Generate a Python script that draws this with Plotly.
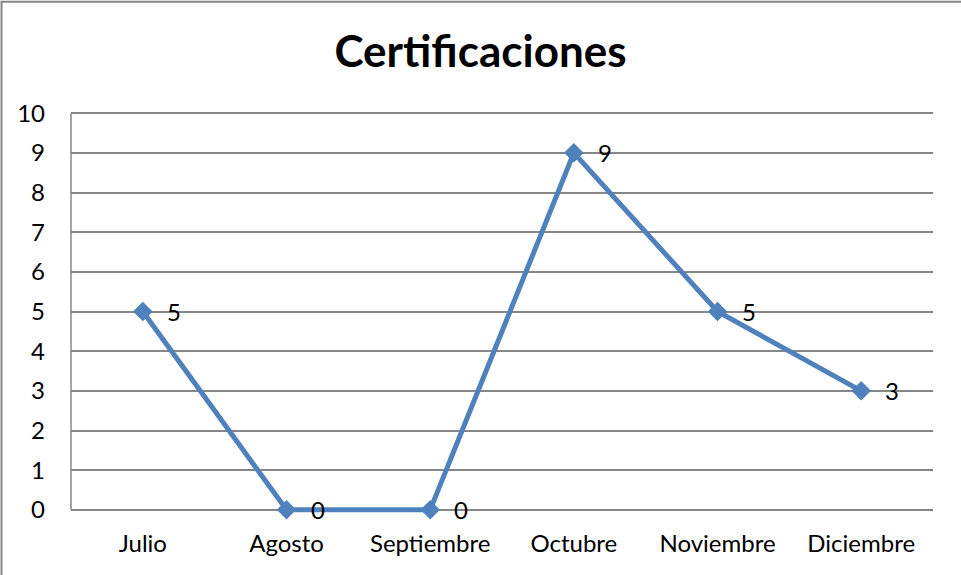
import plotly.graph_objects as go

months = ["Julio", "Agosto", "Septiembre", "Octubre", "Noviembre", "Diciembre"]
values = [5, 0, 0, 9, 5, 3]
y_ticks = list(range(0, 11))

W, H = 961, 575
L, R, T, B = 71, 28, 113, 65          # pixel box of the 0..10 value range
ymin, ymax = 0, 10
unit = (H - T - B) / (ymax - ymin)
ypad = 0.08                            # small headroom so lines at 0/10 are not clipped
Tm = T - ypad * unit
Bm = B - ypad * unit
pw = W - L - R
ph = H - Tm - Bm
FONT = "Lato, Carlito, sans-serif"

fig = go.Figure()
fig.add_trace(go.Scatter(
    x=months, y=values, mode="lines+markers",
    line=dict(color="#4F81BD", width=5),
    marker=dict(symbol="diamond", size=15, color="#4F81BD"),
    cliponaxis=False,
    hoverinfo="skip", showlegend=False,
))

for m, v in zip(months, values):
    fig.add_annotation(x=m, y=v, text=str(v), showarrow=False,
                       xshift=31, yshift=0,
                       font=dict(family=FONT, size=24, color="#000000"))

# outer chart border
fig.add_shape(type="rect", xref="paper", yref="paper",
              x0=(1.5 - L) / pw, x1=(W + 3 - L) / pw,
              y0=-(Bm + 3) / ph, y1=(H - Bm - 1.5) / ph,
              line=dict(color="#868686", width=2), fillcolor="rgba(0,0,0,0)", layer="below")
# left value axis line
fig.add_shape(type="line", xref="paper", yref="y",
              x0=0, x1=0, y0=ymin, y1=ymax,
              line=dict(color="#868686", width=1.5), layer="below")

fig.update_layout(
    width=W, height=H,
    margin=dict(l=L, r=R, t=Tm, b=Bm, pad=0),
    paper_bgcolor="white", plot_bgcolor="white",
    title=dict(text="<b>Certificaciones</b>", x=0.5, xanchor="center",
               y=1 - 52 / H, yanchor="middle",
               font=dict(family=FONT, size=44, color="#000000")),
    font=dict(family=FONT, size=24, color="#000000"),
)
fig.update_xaxes(type="category", categoryorder="array", categoryarray=months,
                 range=[-0.5, len(months) - 0.5], showgrid=False,
                 showline=False, zeroline=False, ticks="", ticklabelstandoff=14,
                 tickfont=dict(size=24))
fig.update_yaxes(range=[ymin - ypad, ymax + ypad], tickvals=y_ticks, showgrid=True,
                 gridcolor="#868686", gridwidth=1.5, zeroline=False,
                 showline=False, layer="below traces",
                 ticks="", ticklabelstandoff=25, tickfont=dict(size=24))

fig.write_html("out.html", config={"displayModeBar": False},
               post_script="document.body.style.margin='0';")
